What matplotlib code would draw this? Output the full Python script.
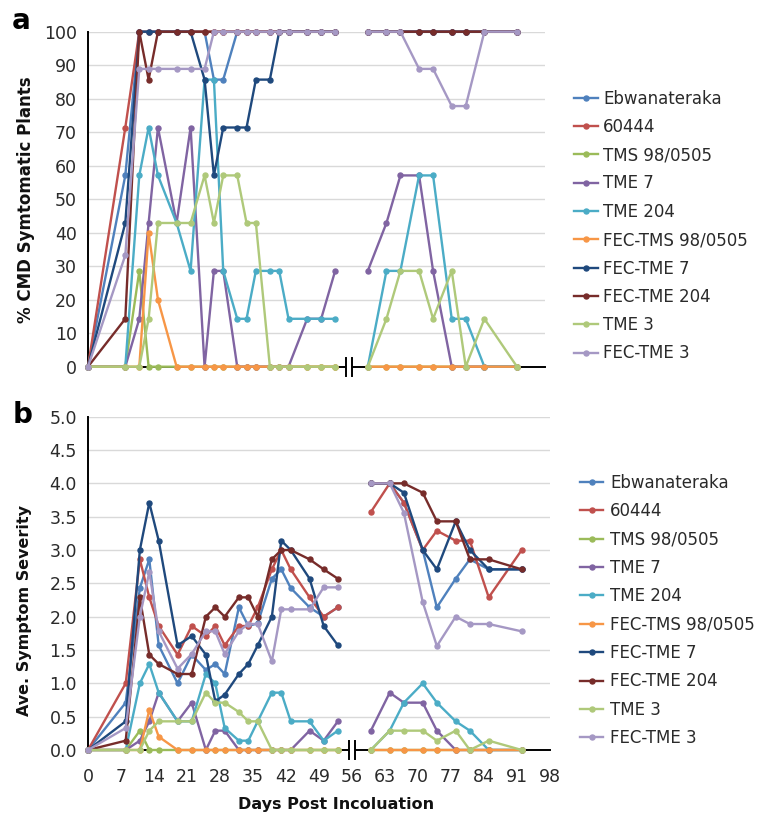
import numpy as np
import matplotlib
matplotlib.use("Agg")
import matplotlib.pyplot as plt
from matplotlib.lines import Line2D

plt.rcParams['font.family'] = ['DejaVu Sans']

# ---------------- data ----------------
days_early = [0, 8, 11, 13, 15, 19, 22, 25, 27, 29, 32, 34, 36, 39, 41, 43, 47, 50, 53]
days_late = [60, 64, 67, 71, 74, 78, 81, 85, 92]

series_names = ["Ebwanateraka", "60444", "TMS 98/0505", "TME 7", "TME 204",
                "FEC-TMS 98/0505", "FEC-TME 7", "FEC-TME 204", "TME 3", "FEC-TME 3"]
series_colors = ["#4F81BD", "#C0504D", "#9BBB59", "#8064A2", "#4BACC6",
                 "#F79646", "#1F497D", "#772C2A", "#AFC97A", "#A598C4"]

# Panel a: % CMD symptomatic plants
pct_ebwanateraka = [0, 57.1, 100, 100, 100, 100, 100, 100, 85.7, 85.7, 100, 100, 100, 100, 100, 100, 100, 100, 100,
                    100, 100, 100, 100, 100, 100, 100, 100, 100]
pct_60444 = [0, 71.4, 100, 100, 100, 100, 100, 100, 100, 100, 100, 100, 100, 100, 100, 100, 100, 100, 100,
             100, 100, 100, 100, 100, 100, 100, 100, 100]
pct_tms98 = [0, 0, 28.6, 0, 0, 0, 0, 0, 0, 0, 0, 0, 0, 0, 0, 0, 0, 0, 0,
             0, 0, 0, 0, 0, 0, 0, 0, 0]
pct_tme7 = [0, 0, 14.3, 42.9, 71.4, 42.9, 71.4, 0, 28.6, 28.6, 0, 0, 0, 0, 0, 0, 14.3, 14.3, 28.6,
            28.6, 42.9, 57.1, 57.1, 28.6, 0, 0, 0, 0]
pct_tme204 = [0, 0, 57.1, 71.4, 57.1, 42.9, 28.6, 85.7, 85.7, 28.6, 14.3, 14.3, 28.6, 28.6, 28.6, 14.3, 14.3, 14.3, 14.3,
              0, 28.6, 28.6, 57.1, 57.1, 14.3, 14.3, 0, 0]
pct_fec_tms98 = [0, 0, 0, 40, 20, 0, 0, 0, 0, 0, 0, 0, 0, 0, 0, 0, 0, 0, 0,
                 0, 0, 0, 0, 0, 0, 0, 0, 0]
pct_fec_tme7 = [0, 42.9, 100, 100, 100, 100, 100, 85.7, 57.1, 71.4, 71.4, 71.4, 85.7, 85.7, 100, 100, 100, 100, 100,
                100, 100, 100, 100, 100, 100, 100, 100, 100]
pct_fec_tme204 = [0, 14.3, 100, 85.7, 100, 100, 100, 100, 100, 100, 100, 100, 100, 100, 100, 100, 100, 100, 100,
                  100, 100, 100, 100, 100, 100, 100, 100, 100]
pct_tme3 = [0, 0, 0, 14.3, 42.9, 42.9, 42.9, 57.1, 42.9, 57.1, 57.1, 42.9, 42.9, 0, 0, 0, 0, 0, 0,
            0, 14.3, 28.6, 28.6, 14.3, 28.6, 0, 14.3, 0]
pct_fec_tme3 = [0, 33.3, 88.9, 88.9, 88.9, 88.9, 88.9, 88.9, 100, 100, 100, 100, 100, 100, 100, 100, 100, 100, 100,
                100, 100, 100, 88.9, 88.9, 77.8, 77.8, 100, 100]

# Panel b: average symptom severity
sev_ebwanateraka = [0, 0.71, 2.43, 2.86, 1.57, 1.0, 1.43, 1.2, 1.29, 1.14, 2.14, 1.86, 1.9, 2.57, 2.71, 2.43, 2.14, 2.0, 2.14,
                    4.0, 4.0, 3.71, 3.0, 2.14, 2.57, 2.86, 2.71, 2.71]
sev_60444 = [0, 1.0, 2.86, 2.29, 1.86, 1.43, 1.86, 1.71, 1.86, 1.57, 1.86, 1.86, 2.14, 2.71, 3.0, 2.71, 2.29, 2.0, 2.14,
             3.57, 4.0, 3.71, 3.0, 3.29, 3.14, 3.14, 2.29, 3.0]
sev_tms98 = [0, 0, 0.29, 0, 0, 0, 0, 0, 0, 0, 0, 0, 0, 0, 0, 0, 0, 0, 0,
             0, 0, 0, 0, 0, 0, 0, 0, 0]
sev_tme7 = [0, 0, 0.14, 0.43, 0.86, 0.43, 0.71, 0, 0.29, 0.29, 0, 0, 0, 0, 0, 0, 0.29, 0.14, 0.43,
            0.29, 0.86, 0.71, 0.71, 0.29, 0, 0, 0, 0]
sev_tme204 = [0, 0, 1.0, 1.29, 0.86, 0.43, 0.43, 1.14, 1.0, 0.33, 0.14, 0.14, 0.43, 0.86, 0.86, 0.43, 0.43, 0.14, 0.29,
              0, 0.29, 0.71, 1.0, 0.71, 0.43, 0.29, 0, 0]
sev_fec_tms98 = [0, 0, 0, 0.6, 0.2, 0, 0, 0, 0, 0, 0, 0, 0, 0, 0, 0, 0, 0, 0,
                 0, 0, 0, 0, 0, 0, 0, 0, 0]
sev_fec_tme7 = [0, 0.43, 3.0, 3.71, 3.14, 1.57, 1.71, 1.43, 0.73, 0.83, 1.14, 1.29, 1.57, 2.0, 3.14, 3.0, 2.57, 1.86, 1.57,
                4.0, 4.0, 3.86, 3.0, 2.71, 3.43, 3.0, 2.71, 2.71]
sev_fec_tme204 = [0, 0.14, 2.29, 1.43, 1.29, 1.14, 1.14, 2.0, 2.14, 2.0, 2.29, 2.29, 2.0, 2.86, 3.0, 3.0, 2.86, 2.71, 2.57,
                  4.0, 4.0, 4.0, 3.86, 3.43, 3.43, 2.86, 2.86, 2.71]
sev_tme3 = [0, 0, 0, 0.29, 0.43, 0.43, 0.43, 0.86, 0.71, 0.71, 0.57, 0.43, 0.43, 0, 0, 0, 0, 0, 0,
            0, 0.29, 0.29, 0.29, 0.14, 0.29, 0, 0.14, 0]
sev_fec_tme3 = [0, 0.33, 2.0, 2.67, 1.78, 1.22, 1.44, 1.78, 1.78, 1.44, 1.78, 1.89, 1.89, 1.33, 2.11, 2.11, 2.11, 2.44, 2.44,
                4.0, 4.0, 3.56, 2.22, 1.56, 2.0, 1.89, 1.89, 1.78]

pct_data = [pct_ebwanateraka, pct_60444, pct_tms98, pct_tme7, pct_tme204,
            pct_fec_tms98, pct_fec_tme7, pct_fec_tme204, pct_tme3, pct_fec_tme3]
sev_data = [sev_ebwanateraka, sev_60444, sev_tms98, sev_tme7, sev_tme204,
            sev_fec_tms98, sev_fec_tme7, sev_fec_tme204, sev_tme3, sev_fec_tme3]

x_ticks = list(range(0, 99, 7))
break_day = 56

# ---------------- figure ----------------
W, H = 768, 815
fig = plt.figure(figsize=(W / 100, H / 100), dpi=100)

def fx(px):
    return px / W

def fy(py):
    return 1 - py / H

ax_a = fig.add_axes([fx(88), fy(366.7), fx(545) - fx(88), fy(31.7) - fy(366.7)])
ax_b = fig.add_axes([fx(88), fy(750), fx(550) - fx(88), fy(416.7) - fy(750)])

n_early = len(days_early)
x_all = np.array(days_early + [np.nan] + days_late, dtype=float)

def draw(ax, data, ymax, ystep, fmt):
    for name, col, vals in zip(series_names, series_colors, data):
        v = np.array(vals[:n_early] + [np.nan] + vals[n_early:], dtype=float)
        ax.plot(x_all, v, color=col, lw=1.7, marker='o', ms=3.6, mec=col, mfc=col,
                zorder=3, solid_joinstyle='round', clip_on=False)
    ax.set_xlim(0, 98)
    ax.set_ylim(0, ymax)
    yt = np.arange(0, ymax + ystep / 2, ystep)
    ax.set_yticks(yt)
    ax.set_yticklabels([fmt(t) for t in yt])
    ax.yaxis.grid(True, color='#D9D9D9', lw=1.0, zorder=0)
    ax.set_axisbelow(True)
    for s in ['top', 'right']:
        ax.spines[s].set_visible(False)
    for s in ['left', 'bottom']:
        ax.spines[s].set_color('black')
        ax.spines[s].set_linewidth(1.4)
        ax.spines[s].set_zorder(2)
    ax.tick_params(axis='both', length=0, labelsize=12.5, colors='#2a2a2a')
    ax.tick_params(axis='y', pad=8)
    # axis break marks
    hh = 9.0 / (ax.get_position().height * H)
    ax.fill_between([break_day - 0.65, break_day + 0.65], [-hh, -hh], [hh, hh],
                    color='white', transform=ax.get_xaxis_transform(), clip_on=False, zorder=4, lw=0)
    for dx in (-0.65, 0.65):
        ax.plot([break_day + dx, break_day + dx], [-hh, hh], color='black', lw=1.4,
                transform=ax.get_xaxis_transform(), clip_on=False, zorder=5)

draw(ax_a, pct_data, 100, 10, lambda t: f"{int(t)}")
draw(ax_b, sev_data, 5.0, 0.5, lambda t: f"{t:.1f}")

ax_a.set_xticks(x_ticks)
ax_a.set_xticklabels([])
ax_b.set_xticks(x_ticks)
ax_b.set_xticklabels([str(t) for t in x_ticks])
ax_b.tick_params(axis='x', pad=13)

# axis labels
fig.text(fx(26), fy(200), "% CMD Symtomatic Plants", rotation=90, ha='center', va='center',
         fontsize=12, fontweight='bold', color='#111111')
fig.text(fx(25), fy(610), "Ave. Symptom Severity", rotation=90, ha='center', va='center',
         fontsize=11.5, fontweight='bold', color='#111111')
fig.text(fx(336), fy(805), "Days Post Incoluation", ha='center', va='center',
         fontsize=11.5, fontweight='bold', color='#111111')

# panel letters
fig.text(fx(12), fy(21), "a", ha='left', va='center', fontsize=20, fontweight='bold')
fig.text(fx(13), fy(415), "b", ha='left', va='center', fontsize=20, fontweight='bold')

# legends
handles = [Line2D([0], [0], color=c, lw=1.7, marker='o', ms=3.6, mec=c, mfc=c) for c in series_colors]
fig.legend(handles, series_names, loc='center left', bbox_to_anchor=(fx(574), fy(226)),
           frameon=False, fontsize=12, handlelength=1.45, handletextpad=0.3,
           labelspacing=0.62, borderpad=0, borderaxespad=0, numpoints=1, labelcolor='#2a2a2a')
fig.legend(handles, series_names, loc='center left', bbox_to_anchor=(fx(580), fy(610.5)),
           frameon=False, fontsize=12, handlelength=1.4, handletextpad=0.42,
           labelspacing=0.62, borderpad=0, borderaxespad=0, numpoints=1, labelcolor='#2a2a2a')

fig.savefig("out.png", dpi=100)
